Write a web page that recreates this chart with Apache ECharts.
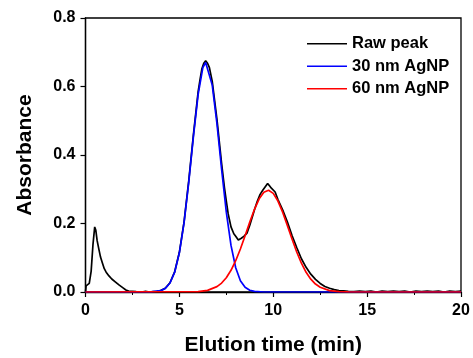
<!DOCTYPE html>
<html>
<head>
<meta charset="utf-8">
<script src="https://cdn.jsdelivr.net/npm/echarts@6/dist/echarts.min.js"></script>
<style>
  html, body { margin: 0; padding: 0; background: #ffffff; }
  #chart { width: 473px; height: 358px; }
</style>
</head>
<body>
<div id="chart"></div>
<script>
// values
const rawTime = [
  0, 0.03, 0.1, 0.2, 0.3, 0.4, 0.49, 0.55, 0.62, 0.7, 0.8, 0.9, 1.0, 1.1, 1.25, 1.4, 1.6, 1.8,
  2.0, 2.15, 2.3, 2.5, 2.7, 3.0, 3.2, 3.4, 3.6, 3.8, 4.0, 4.25, 4.5, 4.75, 5.0, 5.25, 5.5,
  5.75, 6.0, 6.1, 6.2, 6.3, 6.4, 6.5, 6.6, 6.75, 7.0, 7.25, 7.4, 7.5, 7.6, 7.75, 7.9, 8.0,
  8.14, 8.3, 8.45, 8.6, 8.75, 8.9, 9.0, 9.15, 9.3, 9.45, 9.55, 9.7, 9.8, 9.9, 10.0, 10.1,
  10.25, 10.5, 10.75, 11.0, 11.25, 11.5, 11.75, 12.0, 12.25, 12.5, 12.75, 13.0, 13.25, 13.5,
  13.75, 14.0, 14.3, 14.6, 14.9, 15.2, 15.5, 15.8, 16.1, 16.4, 16.7, 17.0, 17.3, 17.6, 17.9,
  18.2, 18.5, 18.8, 19.1, 19.4, 19.7, 20
]
const rawAbs = [
  0, 0.018, 0.022, 0.025, 0.06, 0.14, 0.19, 0.18, 0.15, 0.128, 0.102, 0.085, 0.068, 0.058,
  0.047, 0.038, 0.029, 0.02, 0.012, 0.006, 0.003, 0.002, 0.001, 0.0, 0.002, 0.0, 0.001,
  0.002, 0.004, 0.011, 0.027, 0.059, 0.116, 0.205, 0.325, 0.46, 0.585, 0.62, 0.652, 0.668,
  0.675, 0.668, 0.655, 0.615, 0.505, 0.375, 0.305, 0.265, 0.228, 0.19, 0.17, 0.163, 0.152,
  0.157, 0.163, 0.172, 0.195, 0.222, 0.24, 0.265, 0.285, 0.298, 0.303, 0.317, 0.31, 0.303,
  0.298, 0.292, 0.27, 0.24, 0.205, 0.165, 0.13, 0.097, 0.072, 0.052, 0.037, 0.025, 0.016,
  0.011, 0.007, 0.004, 0.003, 0.002, 0.001, 0.003, 0.001, 0.003, 0.0, 0.003, 0.001, 0.003,
  0.001, 0.003, 0.0, 0.003, 0.001, 0.003, 0.001, 0.003, 0.0, 0.003, 0.001, 0.003
]

const fit30Time = [
  0, 3.5, 4.0, 4.25, 4.5, 4.75, 5.0, 5.25, 5.5, 5.75, 6.0, 6.25, 6.4, 6.5, 6.75, 7.0, 7.25,
  7.5, 7.75, 8.0, 8.25, 8.5, 8.75, 9.0, 9.5, 20
]
const fit30Abs = [
  0, 0.0004, 0.0038, 0.0106, 0.0262, 0.0578, 0.1144, 0.2026, 0.321, 0.455, 0.577, 0.655,
  0.67, 0.665, 0.604, 0.492, 0.358, 0.233, 0.136, 0.0708, 0.033, 0.0138, 0.0052, 0.0017, 0, 0
]

const fit60Time = [
  0, 6.0, 6.5, 7.0, 7.25, 7.5, 7.75, 8.0, 8.25, 8.5, 8.75, 9.0, 9.25, 9.5, 9.75, 10.0, 10.25,
  10.5, 10.75, 11.0, 11.25, 11.5, 11.75, 12.0, 12.25, 12.5, 13.0, 13.5, 14.0, 20
]
const fit60Abs = [
  0, 0.0012, 0.0048, 0.0156, 0.0261, 0.0417, 0.0633, 0.0914, 0.1255, 0.1641, 0.204, 0.2415,
  0.272, 0.2913, 0.297, 0.2879, 0.2655, 0.2331, 0.1946, 0.1546, 0.1168, 0.084, 0.0575,
  0.0374, 0.0232, 0.0137, 0.0041, 0.001, 0.0002, 0
]

const xTicks = [0, 5, 10, 15, 20]
const yTicks = [0, 0.2, 0.4, 0.6, 0.8]

const font = "'Liberation Sans', Arial, sans-serif"

function pairs(xs, ys) {
  return xs.map((x, i) => [x, ys[i]])
}

function lineSeries(name, xs, ys, color) {
  return {
    name,
    type: 'line',
    data: pairs(xs, ys),
    showSymbol: false,
    symbol: 'none',
    smooth: false,
    lineStyle: { color, width: 1.7 },
    itemStyle: { color },
    z: 2,
  }
}

const chart = echarts.init(document.getElementById('chart'), undefined, {
  renderer: 'canvas',
})

chart.setOption({
  animation: false,
  backgroundColor: '#ffffff',
  grid: {
    left: 85.5,
    right: 12,
    top: 18,
    bottom: 66,
    outerBoundsMode: 'none',
    containLabel: false,
    show: true,
    borderColor: '#000000',
    borderWidth: 1.3,
  },
  legend: {
    orient: 'vertical',
    left: 302,
    top: 30,
    itemWidth: 40,
    itemHeight: 1.6,
    itemGap: 5,
    icon: 'rect',
    textStyle: {
      fontFamily: font,
      fontWeight: 'bold',
      fontSize: 16.5,
      color: '#000000',
      lineHeight: 17.5,
    },
    data: ['Raw peak', '30 nm AgNP', '60 nm AgNP'],
  },
  xAxis: {
    type: 'value',
    min: xTicks[0],
    max: xTicks[xTicks.length - 1],
    interval: 5,
    name: 'Elution time (min)',
    nameLocation: 'middle',
    nameGap: 43,
    nameTextStyle: {
      fontFamily: font,
      fontWeight: 'bold',
      fontSize: 21,
      color: '#000000',
    },
    axisLine: { onZero: false, lineStyle: { color: '#000000', width: 1.3 } },
    axisTick: { inside: false, length: 5, lineStyle: { color: '#000000', width: 1.2 } },
    minorTick: { show: true, splitNumber: 2, length: 3, lineStyle: { color: '#000000', width: 1 } },
    axisLabel: {
      margin: 11,
      fontFamily: font,
      fontWeight: 'bold',
      fontSize: 16,
      color: '#000000',
      formatter: (v) => (xTicks.includes(v) ? String(v) : ''),
    },
    splitLine: { show: false },
  },
  yAxis: {
    type: 'value',
    min: yTicks[0],
    max: yTicks[yTicks.length - 1],
    interval: 0.2,
    name: 'Absorbance',
    nameLocation: 'middle',
    nameGap: 50,
    nameRotate: 90,
    nameTextStyle: {
      fontFamily: font,
      fontWeight: 'bold',
      fontSize: 21,
      color: '#000000',
    },
    axisLine: { show: true, onZero: false, lineStyle: { color: '#000000', width: 1.3 } },
    axisTick: { show: true, inside: false, length: 5, lineStyle: { color: '#000000', width: 1.2 } },
    axisLabel: {
      margin: 10,
      fontFamily: font,
      fontWeight: 'bold',
      fontSize: 16,
      color: '#000000',
      formatter: (v) => v.toFixed(1),
    },
    splitLine: { show: false },
  },
  series: [
    lineSeries('Raw peak', rawTime, rawAbs, '#000000'),
    lineSeries('30 nm AgNP', fit30Time, fit30Abs, '#0000ff'),
    lineSeries('60 nm AgNP', fit60Time, fit60Abs, '#ff0000'),
  ],
})
</script>
</body>
</html>
